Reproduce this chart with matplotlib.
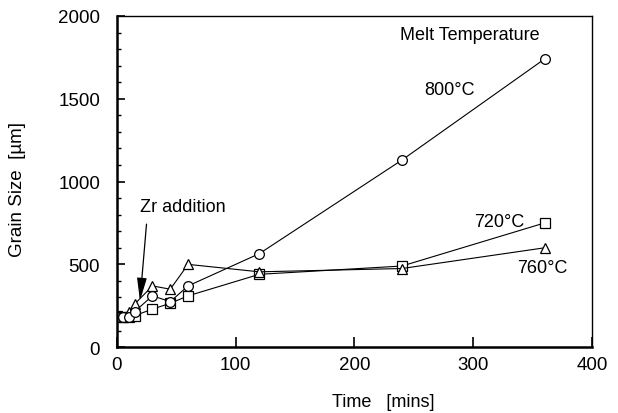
import matplotlib
matplotlib.use("Agg")
import matplotlib.pyplot as plt
from matplotlib.ticker import MultipleLocator

plt.rcParams['font.family'] = ['Liberation Sans', 'DejaVu Sans']

# sampling times (mins)
time = [0, 5, 10, 15, 30, 45, 60, 120, 240, 360]

# grain size (um) for each melt temperature
gs_720 = [190, 180, 185, 190, 230, 265, 310, 440, 490, 750]
gs_760 = [190, 185, 210, 260, 370, 350, 500, 455, 475, 600]
gs_800 = [185, 180, 185, 215, 310, 275, 370, 565, 1130, 1740]

fig = plt.figure(figsize=(6.18, 4.14), dpi=100)
ax = fig.add_axes([0.189, 0.159, 0.769, 0.800])

mk = dict(color='black', lw=0.8, mfc='white', mec='black', mew=0.9)
ax.plot(time, gs_720, marker='s', ms=6.5, **mk)
ax.plot(time, gs_760, marker='^', ms=7.5, **mk)
ax.plot(time, gs_800, marker='o', ms=7, **mk)

ax.set_xlim(0, 400)
ax.set_ylim(0, 2000)
ax.xaxis.set_major_locator(MultipleLocator(100))
ax.yaxis.set_major_locator(MultipleLocator(500))
ax.yaxis.set_minor_locator(MultipleLocator(100))

ax.tick_params(axis='both', which='both', direction='in', top=False, right=False,
               labelsize=13.5)
ax.tick_params(axis='x', which='major', length=7, width=1.2, pad=6)
ax.tick_params(axis='y', which='major', length=6, width=1.2, pad=12)
ax.tick_params(axis='y', which='minor', length=3, width=1)

for s in ['left', 'bottom']:
    ax.spines[s].set_linewidth(1.8)
for s in ['top', 'right']:
    ax.spines[s].set_linewidth(1.0)

ax.set_xlabel('Time   [mins]', fontsize=13)
ax.set_ylabel('Grain Size  [\u00b5m]', fontsize=13.5)
ax.xaxis.set_label_coords(0.56, -0.138)
ax.yaxis.set_label_coords(-0.192, 0.48)

ax.text(238, 1891, 'Melt Temperature', fontsize=13, va='center', ha='left')
ax.text(259, 1559, '800\u00b0C', fontsize=13, va='center', ha='left')
ax.text(343, 760, '720\u00b0C', fontsize=13, va='center', ha='right')
ax.text(337, 483, '760\u00b0C', fontsize=13, va='center', ha='left')

ax.text(19.5, 852, 'Zr addition', fontsize=13, ha='left', va='center')
ax.annotate('', xy=(19.5, 280), xytext=(25, 743),
            arrowprops=dict(arrowstyle='-|>,head_length=1.4,head_width=0.3',
                            color='black', lw=0.9, shrinkA=0, shrinkB=0))

fig.savefig('out.png', dpi=100)
